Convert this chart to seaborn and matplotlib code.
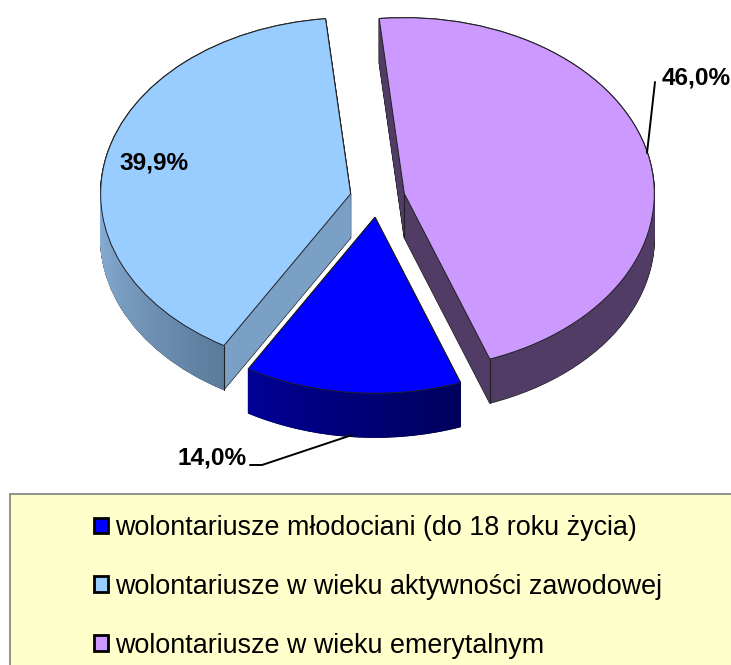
import numpy as np
import matplotlib
matplotlib.use("Agg")
import matplotlib.pyplot as plt
from matplotlib.patches import Patch, Rectangle
from matplotlib.collections import PolyCollection
from matplotlib.colors import to_rgb
import seaborn as sns

categories = ["wolontariusze młodociani (do 18 roku życia)",
              "wolontariusze w wieku aktywności zawodowej",
              "wolontariusze w wieku emerytalnym"]
shares = [14.0, 39.9, 46.0]
share_labels = ["14,0%", "39,9%", "46,0%"]
top_colors = ["#0000ff", "#99ccff", "#cc99ff"]
side_colors = ["#00007c", "#7aa0c6", "#503c64"]
# gradient ends of the visible outer wall (left, right); None keeps the flat colour
wall_left = ["#000096", "#8cb2da", None]
wall_right = ["#00005c", "#5c7c9c", None]

W, H = 731, 665
CX, CY, RX, RY = 377.5, 198, 250, 176
DEPTH = 44 / RY
EXPLODE = 0.11
START = 290

sns.set_theme(style="white")
plt.rcParams["font.family"] = ["Liberation Sans", "DejaVu Sans"]

fig = plt.figure(figsize=(W / 100, H / 100), dpi=100, facecolor="white")
ax = fig.add_axes([0, 0, 1, 1])
explode = [EXPLODE] * len(shares)


def draw(d, colors, **wp):
    ax.pie(shares, colors=colors, explode=explode, startangle=START,
           counterclock=False, center=(0, -d), radius=1, wedgeprops=wp)


levels = np.linspace(DEPTH, 0, 45)
# black silhouette beneath the solid
for d in levels:
    draw(d, ["#202020"] * 3, edgecolor="#202020", linewidth=0.9, zorder=1)
# side walls
for d in levels[:-1]:
    draw(d, side_colors, edgecolor="none", linewidth=0, zorder=2)

# wedge angle limits, clockwise from START
edges = START - np.concatenate([[0], np.cumsum(shares)]) / sum(shares) * 360


def offset(i):
    mid = np.radians((edges[i] + edges[i + 1]) / 2)
    return EXPLODE * np.cos(mid), EXPLODE * np.sin(mid)


# shaded outer walls
for i in range(len(shares)):
    if wall_left[i] is None:
        continue
    ox, oy = offset(i)
    a0, a1 = edges[i + 1], edges[i]
    a0 = max(a0, 180)
    th = np.radians(np.linspace(a0, a1, 61))
    polys, cols = [], []
    c0, c1 = np.array(to_rgb(wall_left[i])), np.array(to_rgb(wall_right[i]))
    for k in range(len(th) - 1):
        x0, x1 = ox + np.cos(th[k]), ox + np.cos(th[k + 1])
        y0, y1 = oy + np.sin(th[k]), oy + np.sin(th[k + 1])
        polys.append([(x0, y0), (x1, y1), (x1, y1 - DEPTH), (x0, y0 - DEPTH)])
        cols.append(c0 + (c1 - c0) * k / (len(th) - 2))
    ax.add_collection(PolyCollection(polys, facecolors=cols, edgecolors=cols,
                                     linewidths=0.6, zorder=3))

# vertical seams between outer wall and cut face
for i, a in [(1, edges[1]), (2, edges[3])]:
    ox, oy = offset(i)
    x = ox + np.cos(np.radians(a))
    y = oy + np.sin(np.radians(a))
    ax.plot([x, x], [y, y - DEPTH], color="#202020", lw=0.8, zorder=4)
ox, oy = offset(2)
ax.plot([ox, ox], [oy, oy - DEPTH], color="#202020", lw=0.8, zorder=4)

# top faces
draw(0, top_colors, edgecolor="#202020", linewidth=0.7, zorder=5)

ax.set_aspect("auto")
ax.set_xlim((0 - CX) / RX, (W - CX) / RX)
ax.set_ylim((CY - H) / RY, CY / RY)
ax.axis("off")


def pf(x, y):
    return x / W, 1 - y / H


# share labels and leader lines
label_pos = [(212, 458), (154, 163), (696, 78)]
for t, p in zip(share_labels, label_pos):
    ax.text(*pf(*p), t, transform=ax.transAxes, ha="center", va="center",
            fontsize=17.6, fontweight="bold", color="black", zorder=8)
for pts in ([(250, 465), (262, 465), (352, 435)], [(655, 82), (647, 153)]):
    xs, ys = zip(*[pf(*q) for q in pts])
    ax.plot(xs, ys, color="black", lw=1.4, transform=ax.transAxes, zorder=8)

# legend panel
x0, y0 = pf(10, 675)
ax.add_patch(Rectangle((x0, y0), 1 - x0 + 0.01, 181 / H, transform=ax.transAxes,
                       facecolor="#ffffcc", edgecolor="#808080", linewidth=1.2,
                       clip_on=False, zorder=6))
handles = [Patch(facecolor=c, edgecolor="black", linewidth=2) for c in top_colors]
leg = ax.legend(handles, categories, loc="upper left",
                bbox_to_anchor=pf(94, 515), frameon=False, fontsize=19.4,
                borderpad=0, borderaxespad=0, handlelength=0.52, handleheight=0.52,
                handletextpad=0.25, labelspacing=1.22, labelcolor="black")
leg.set_zorder(9)

fig.savefig("out.png", dpi=100, facecolor="white")
